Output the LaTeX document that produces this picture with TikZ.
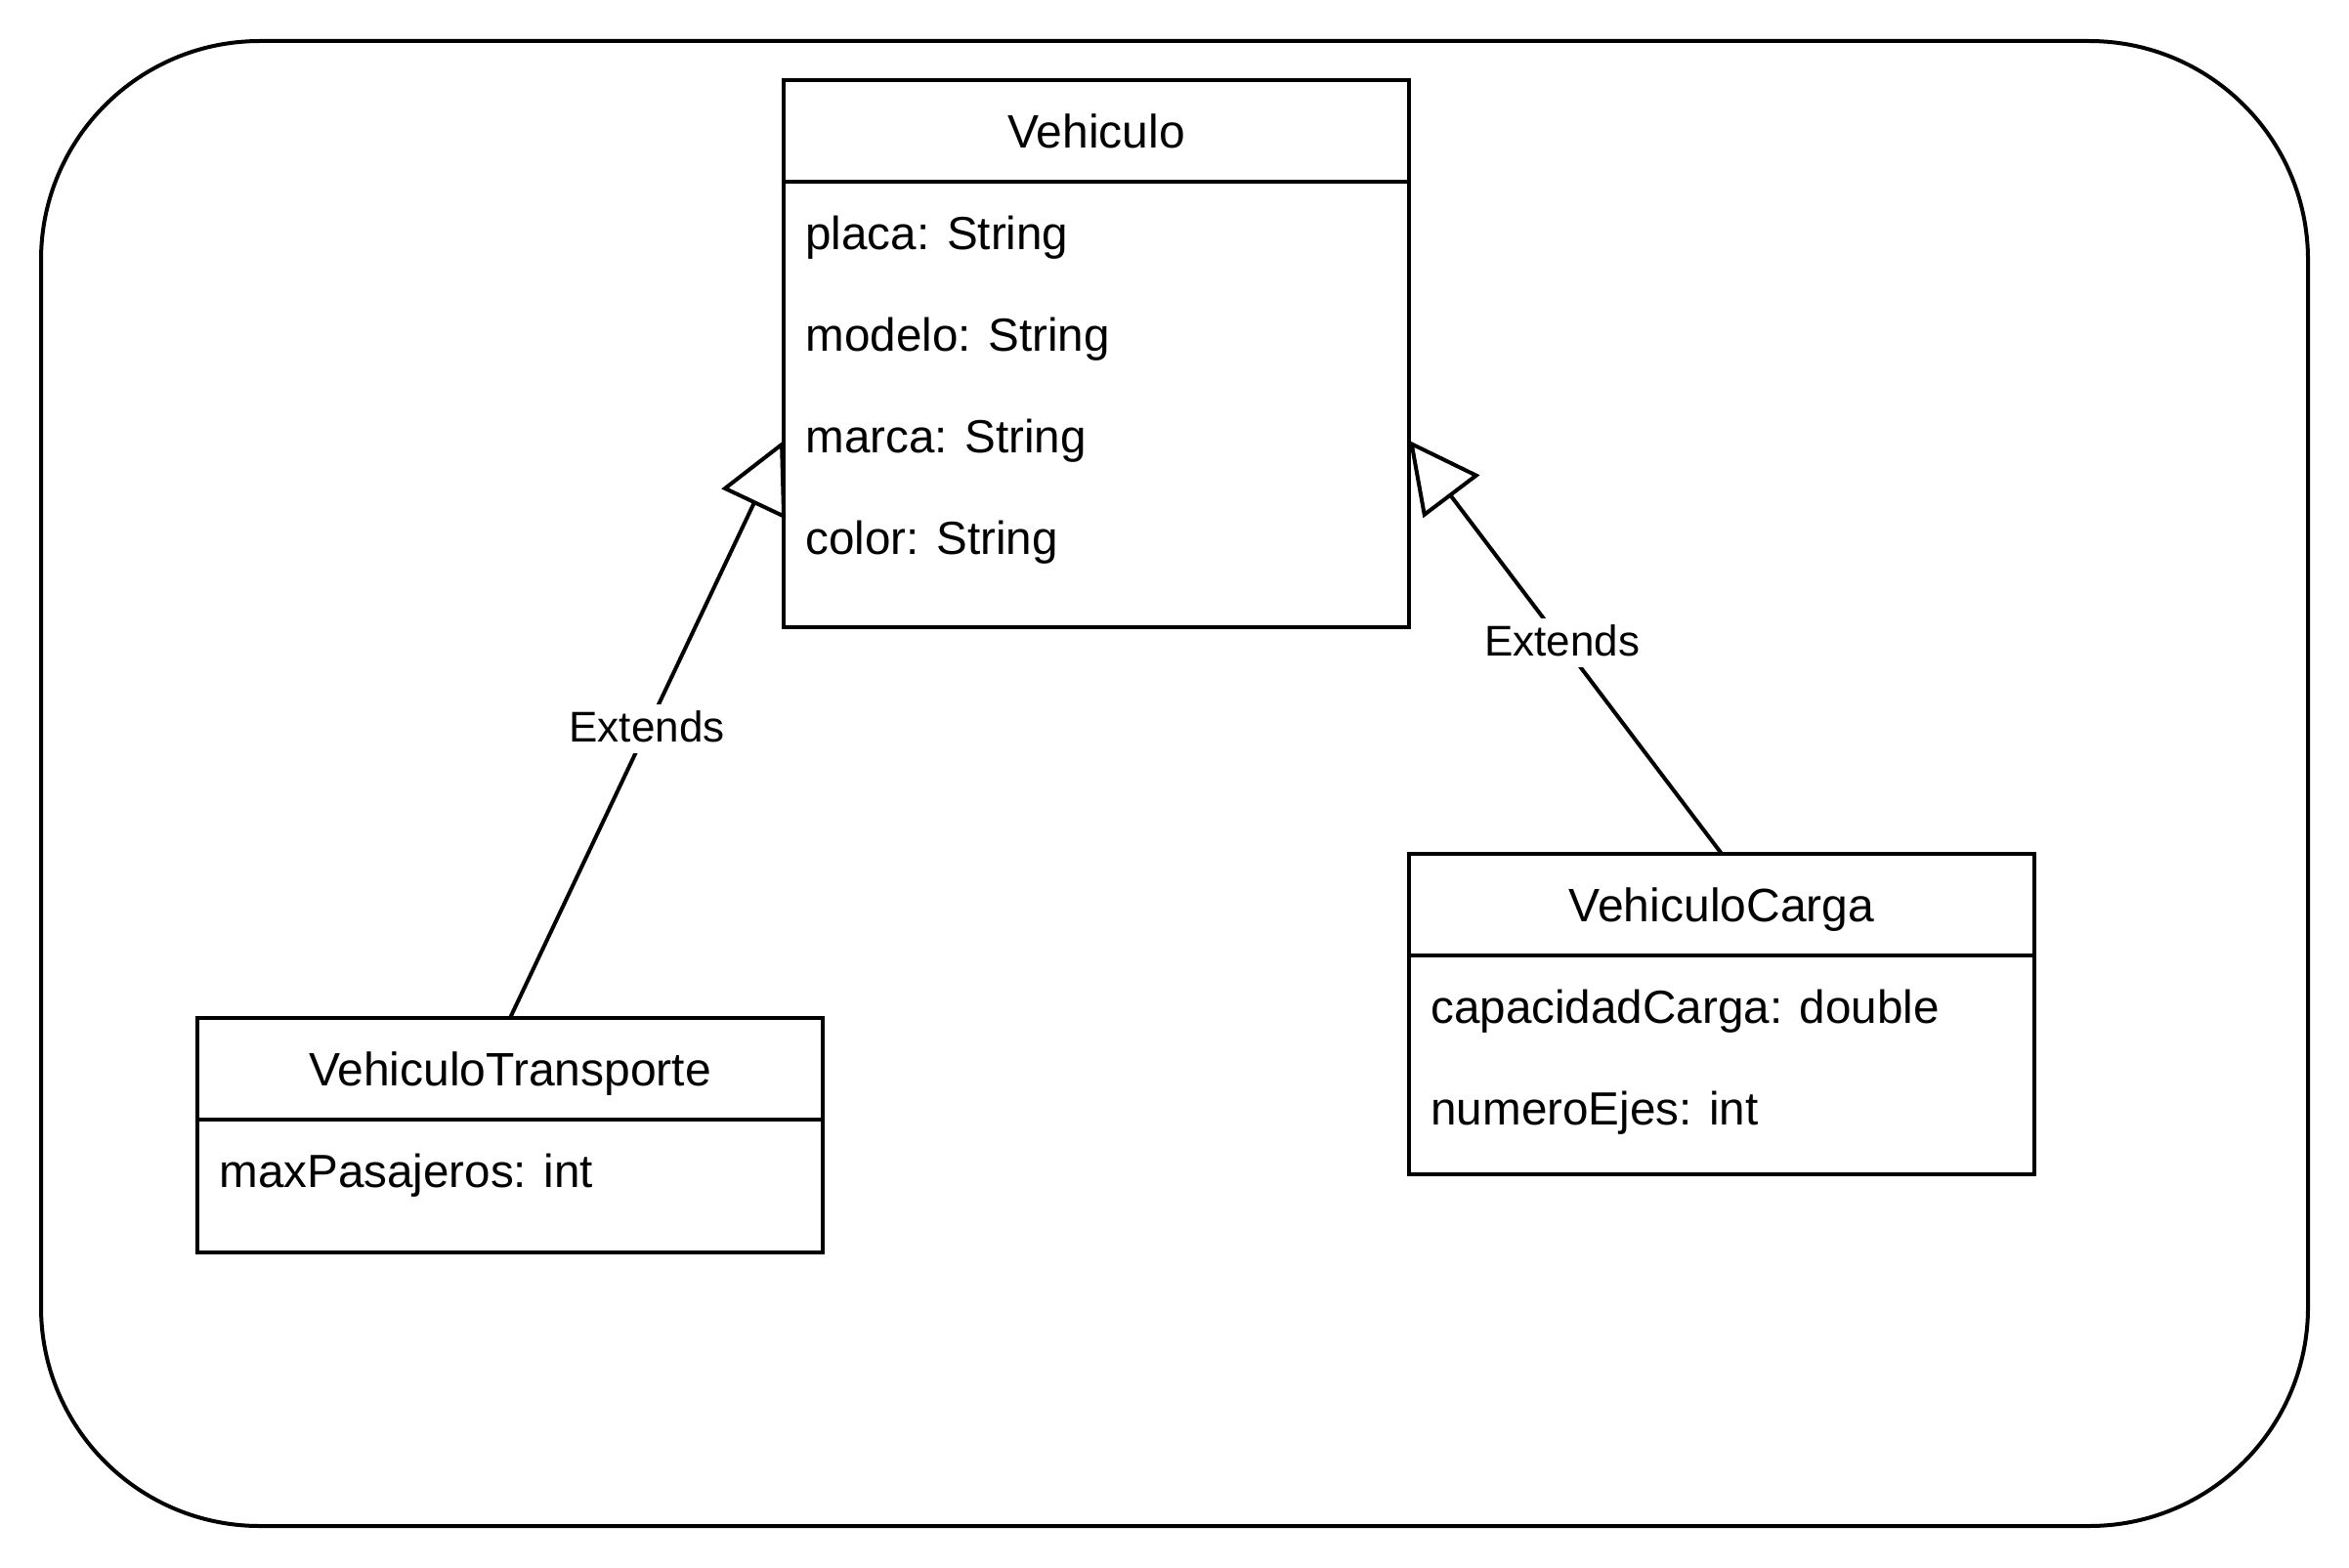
\documentclass[tikz,border=0pt]{standalone}
\usepackage{fontspec}
\setmainfont{Liberation Sans}
\usetikzlibrary{arrows.meta}
\begin{document}
\begin{tikzpicture}[x=1pt,y=-1pt,
  line width=1pt,
  classhead/.style={draw, rectangle, anchor=north west, minimum width=160pt,
    minimum height=26pt, inner sep=0pt, outer sep=0pt,
    text height=8.6pt, text depth=0pt, font=\fontsize{12}{14.4}\selectfont},
  classbody/.style={draw, rectangle, anchor=north, minimum width=160pt,
    inner sep=0pt, outer sep=0pt},
  attr/.style={anchor=base west, inner sep=0pt, font=\fontsize{11.9}{14.4}\selectfont},
  extends/.style={draw, -{Triangle[open, length=18pt, width=18pt]}},
  extlabel/.style={fill=white, inner xsep=1pt, inner ysep=1pt,
    text height=8.5pt, text depth=2pt, font=\fontsize{11}{13.2}\selectfont}]
  \useasboundingbox (0,0) rectangle (601,401);
  % frame
  \draw[rounded corners=56pt] (10.5,10.5) rectangle (590.5,390.5);

  % class Vehiculo
  \node[classhead] (veh) at (200.5,20.5) {Vehiculo};
  \node[classbody, minimum height=114pt] (vehb) at (veh.south) {};
  \node[attr] (placa)  at (205.6,63.8)  {placa: String};
  \node[attr] (modelo) at (205.6,89.8)  {modelo: String};
  \node[attr] (marca)  at (205.6,115.8) {marca: String};
  \node[attr] (color)  at (205.6,141.8) {color: String};

  % class VehiculoTransporte
  \node[classhead] (vt) at (50.5,260.5) {VehiculoTransporte};
  \node[classbody, minimum height=34pt] (vtb) at (vt.south) {};
  \node[attr] (maxpas) at (55.6,303.8) {maxPasajeros: int};

  % class VehiculoCarga
  \node[classhead] (vc) at (360.5,218.5) {VehiculoCarga};
  \node[classbody, minimum height=56pt] (vcb) at (vc.south) {};
  \node[attr] (capac) at (365.6,261.8) {capacidadCarga: double};
  \node[attr] (ejes)  at (365.6,287.8) {numeroEjes: int};

  % generalizations
  \draw[extends] (vt.north) -- node[extlabel] (lblT) {Extends} (vehb.west |- marca);
  \draw[extends] (vc.north) -- node[extlabel, pos=0.51] (lblC) {Extends} (vehb.east |- marca);
\end{tikzpicture}
\end{document}
